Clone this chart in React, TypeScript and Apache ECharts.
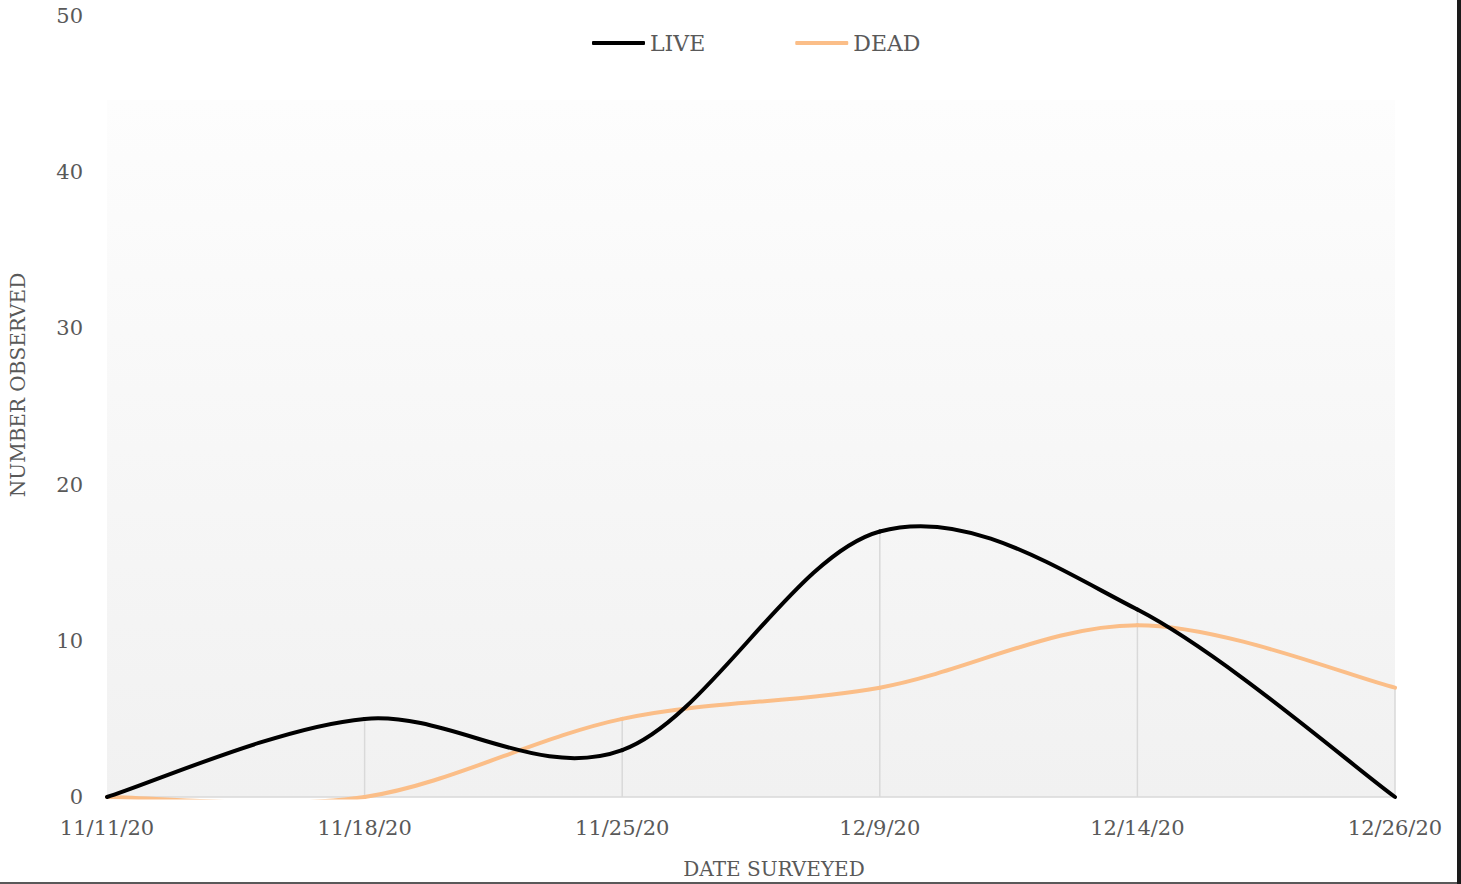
import React, { useEffect, useRef } from "react";
import * as echarts from "echarts";

const categories = ["11/11/20", "11/18/20", "11/25/20", "12/9/20", "12/14/20", "12/26/20"];
const liveValues = [0, 5, 3, 17, 12, 0];
const deadValues = [0, 0, 5, 7, 11, 7];
const yTicks = [0, 10, 20, 30, 40, 50];
const xAxisTitle = "DATE SURVEYED";
const yAxisTitle = "NUMBER OBSERVED";

const FONT = "'DejaVu Serif', serif";
const TEXT = "#595959";
const LIVE_COLOR = "#000000";
const DEAD_COLOR = "#fbbe88";

// Excel-like smoothed line (Catmull-Rom through points, drawn segment by segment)
function smoothSeries(name: string, values: number[], color: string, z: number) {
  return {
    name,
    type: "custom",
    z,
    silent: true,
    itemStyle: { color },
    data: values.map((v, i) => [i, v]),
    renderItem: (params: any, api: any) => {
      const i = params.dataIndex;
      const n = values.length;
      if (i >= n - 1) return null;
      const pt = (j: number) => {
        const k = Math.max(0, Math.min(n - 1, j));
        return api.coord([k, values[k]]);
      };
      const p0 = pt(i - 1);
      const p1 = pt(i);
      const p2 = pt(i + 1);
      const p3 = pt(i + 2);
      const c1 = [p1[0] + (p2[0] - p0[0]) / 6, p1[1] + (p2[1] - p0[1]) / 6];
      const c2 = [p2[0] - (p3[0] - p1[0]) / 6, p2[1] - (p3[1] - p1[1]) / 6];
      return {
        type: "bezierCurve",
        shape: { x1: p1[0], y1: p1[1], cpx1: c1[0], cpy1: c1[1], cpx2: c2[0], cpy2: c2[1], x2: p2[0], y2: p2[1] },
        style: { stroke: color, lineWidth: 4, fill: null, lineCap: "round" },
      };
    },
  };
}

export default function App() {
  const ref = useRef<HTMLDivElement>(null);
  useEffect(() => {
    if (!ref.current) return;
    const chart = echarts.init(ref.current, undefined, { renderer: "svg" });
    const dropValues = categories.map((_, i) => [i, Math.max(liveValues[i], deadValues[i])]);
    chart.setOption({
      animation: false,
      backgroundColor: "#ffffff",
      textStyle: { fontFamily: FONT },
      grid: { left: 107, right: 66, top: 16, bottom: 87, outerBoundsMode: "none" },
      graphic: [
        {
          type: "rect",
          z: -10,
          silent: true,
          shape: { x: 107, y: 100, width: 1288, height: 697 },
          style: {
            fill: new echarts.graphic.LinearGradient(0, 0, 0, 1, [
              { offset: 0, color: "#fdfdfd" },
              { offset: 1, color: "#f1f1f1" },
            ]),
          },
        },
        {
          // plot-area clipping below the baseline
          type: "rect",
          z: 100,
          silent: true,
          shape: { x: 112, y: 799.5, width: 1278, height: 8 },
          style: { fill: "#ffffff" },
        },
        {
          type: "text",
          x: 18,
          y: 385,
          rotation: Math.PI / 2,
          style: {
            text: yAxisTitle,
            fill: TEXT,
            font: `20px ${FONT}`,
            align: "center",
            verticalAlign: "middle",
          },
        },
        {
          type: "text",
          x: 774,
          y: 869,
          style: {
            text: xAxisTitle,
            fill: TEXT,
            font: `20px ${FONT}`,
            align: "center",
            verticalAlign: "middle",
          },
        },
      ],
      legend: {
        data: [
          { name: "LIVE", icon: "roundRect", itemStyle: { color: LIVE_COLOR } },
          { name: "DEAD", icon: "roundRect", itemStyle: { color: DEAD_COLOR } },
        ],
        left: 587,
        top: 27,
        itemWidth: 53,
        itemHeight: 4,
        itemGap: 90,
        textStyle: { color: TEXT, fontFamily: FONT, fontSize: 22 },
      },
      xAxis: {
        type: "category",
        data: categories,
        boundaryGap: false,
        axisLine: { lineStyle: { color: "#d9d9d9", width: 1.5 } },
        axisTick: { show: false },
        axisLabel: { color: TEXT, fontFamily: FONT, fontSize: 21, margin: 20 },
        splitLine: { show: false },
      },
      yAxis: {
        type: "value",
        min: yTicks[0],
        max: yTicks[yTicks.length - 1],
        interval: yTicks[1] - yTicks[0],
        axisLine: { show: false },
        axisTick: { show: false },
        splitLine: { show: false },
        axisLabel: { color: TEXT, fontFamily: FONT, fontSize: 21, margin: 24 },
      },
      series: [
        {
          name: "drops",
          type: "custom",
          silent: true,
          z: 1,
          data: dropValues,
          renderItem: (params: any, api: any) => {
            const top = api.coord([api.value(0), api.value(1)]);
            const bot = api.coord([api.value(0), 0]);
            return {
              type: "line",
              shape: { x1: top[0], y1: top[1], x2: bot[0], y2: bot[1] },
              style: { stroke: "#d9d9d9", lineWidth: 1.5 },
            };
          },
        },
        smoothSeries("DEAD", deadValues, DEAD_COLOR, 3),
        smoothSeries("LIVE", liveValues, LIVE_COLOR, 4),
      ],
    });
    return () => chart.dispose();
  }, []);

  return (
    <div style={{ position: "fixed", left: 0, top: 0, width: 1461, height: 884, background: "#fff" }}>
      <div ref={ref} style={{ position: "absolute", left: 0, top: 0, width: 1461, height: 884 }} />
      <div style={{ position: "absolute", left: 0, top: 882, width: 1461, height: 2, background: "#595959" }} />
      <div style={{ position: "absolute", left: 1457, top: 0, width: 4, height: 884, background: "#1a1a1a" }} />
    </div>
  );
}
